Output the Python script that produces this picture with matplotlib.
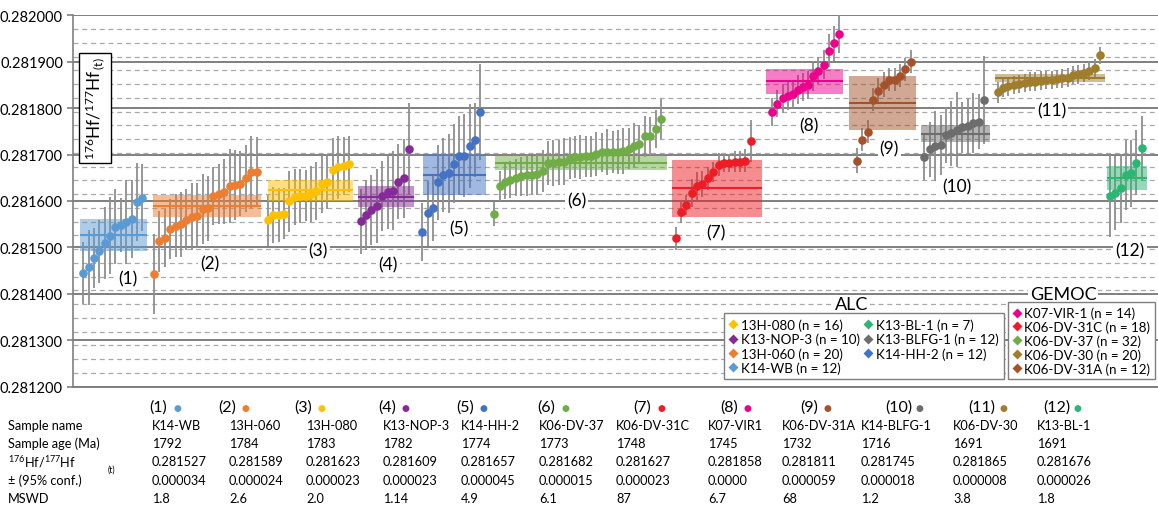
import matplotlib
matplotlib.use("Agg")
import matplotlib.pyplot as plt
import numpy as np
from matplotlib.lines import Line2D
from matplotlib.ticker import FixedLocator, FormatStrFormatter

plt.rcParams['font.family'] = ['Lato', 'DejaVu Sans']
plt.rcParams['mathtext.fontset'] = 'custom'
plt.rcParams['mathtext.rm'] = 'Lato'
plt.rcParams['mathtext.it'] = 'Lato:italic'

# ---------------- data ----------------
sample_names = ["K14-WB", "13H-060", "13H-080", "K13-NOP-3", "K14-HH-2", "K06-DV-37",
                "K06-DV-31C", "K07-VIR1", "K06-DV-31A", "K14-BLFG-1", "K06-DV-30", "K13-BL-1"]
sample_ages = ["1792", "1784", "1783", "1782", "1774", "1773", "1748", "1745", "1732", "1716", "1691", "1691"]
ratio_text = ["0.281527", "0.281589", "0.281623", "0.281609", "0.281657", "0.281682",
              "0.281627", "0.281858", "0.281811", "0.281745", "0.281865", "0.281676"]
conf_text = ["0.000034", "0.000024", "0.000023", "0.000023", "0.000045", "0.000015",
             "0.000023", "0.0000", "0.000059", "0.000018", "0.000008", "0.000026"]
mswd_text = ["1.8", "2.6", "2.0", "1.14", "4.9", "6.1", "87", "6.7", "68", "1.2", "3.8", "1.8"]

# weighted mean boxes as drawn (centre, half height)
box_mean = [0.281527, 0.281589, 0.281623, 0.281609, 0.281657, 0.281682,
            0.281627, 0.281858, 0.281811, 0.281745, 0.281865, 0.281650]
box_half = [0.000034, 0.000024, 0.000023, 0.000023, 0.000045, 0.000015,
            0.000062, 0.000027, 0.000059, 0.000018, 0.000008, 0.000026]

k14_wb = [0.281445, 0.281457, 0.281477, 0.281492, 0.281510, 0.281525, 0.281545, 0.281548,
          0.281555, 0.281561, 0.281597, 0.281607]
k14_wb_err = [67, 80, 65, 68, 77, 83, 80, 58, 90, 84, 84, 72]
h13_060 = [0.281442, 0.281513, 0.281520, 0.281540, 0.281547, 0.281550, 0.281560, 0.281566,
           0.281568, 0.281583, 0.281584, 0.281611, 0.281615, 0.281620, 0.281633, 0.281634,
           0.281637, 0.281649, 0.281662, 0.281662]
h13_060_err = [86, 65, 62, 65, 68, 70, 66, 72, 70, 75, 70, 62, 65, 70, 80, 75, 70, 72, 78, 75]
h13_080 = [0.281559, 0.281570, 0.281570, 0.281573, 0.281599, 0.281609, 0.281611, 0.281611,
           0.281615, 0.281622, 0.281637, 0.281642, 0.281667, 0.281673, 0.281676, 0.281680]
h13_080_err = [55, 60, 58, 55, 65, 60, 58, 55, 60, 62, 62, 60, 68, 68, 62, 60]
k13_nop3 = [0.281556, 0.281570, 0.281581, 0.281589, 0.281611, 0.281619, 0.281622, 0.281642,
            0.281649, 0.281712]
k13_nop3_err = [70, 75, 75, 80, 75, 80, 85, 80, 85, 100]
k14_hh2 = [0.281533, 0.281574, 0.281584, 0.281640, 0.281656, 0.281660, 0.281680, 0.281698,
           0.281698, 0.281719, 0.281732, 0.281792]
k14_hh2_err = [62, 70, 70, 80, 80, 85, 85, 85, 90, 90, 80, 103]
k06_dv37 = [0.281572, 0.281632, 0.281642, 0.281646, 0.281650, 0.281653, 0.281656, 0.281656,
            0.281658, 0.281664, 0.281682, 0.281682, 0.281683, 0.281685, 0.281692, 0.281694,
            0.281695, 0.281696, 0.281696, 0.281701, 0.281705, 0.281705, 0.281706, 0.281706,
            0.281708, 0.281713, 0.281719, 0.281723, 0.281739, 0.281739, 0.281755, 0.281777]
k06_dv37_err = [25, 32, 38, 40, 40, 42, 45, 40, 45, 45, 48, 50, 48, 50, 45, 45,
                48, 45, 45, 48, 42, 50, 45, 48, 50, 45, 48, 40, 45, 42, 40, 43]
k06_dv31c = [0.281520, 0.281577, 0.281592, 0.281617, 0.281633, 0.281637, 0.281649, 0.281662,
             0.281678, 0.281682, 0.281682, 0.281685, 0.281685, 0.281687, 0.281729]
k06_dv31c_err = [25, 25, 22, 30, 30, 28, 25, 22, 25, 20, 20, 22, 22, 25, 46]
k07_vir1 = [0.281791, 0.281810, 0.281821, 0.281826, 0.281830, 0.281840, 0.281846, 0.281850,
            0.281869, 0.281881, 0.281894, 0.281924, 0.281940, 0.281960]
k07_vir1_err = [30, 30, 32, 30, 30, 32, 30, 30, 32, 30, 32, 35, 38, 41]
k06_dv31a = [0.281687, 0.281732, 0.281749, 0.281818, 0.281838, 0.281850, 0.281861, 0.281861,
             0.281870, 0.281884, 0.281900]
k06_dv31a_err = [27, 25, 25, 25, 28, 27, 25, 25, 25, 25, 25]
k14_blfg1 = [0.281694, 0.281711, 0.281718, 0.281721, 0.281742, 0.281746, 0.281754, 0.281759,
             0.281761, 0.281768, 0.281771, 0.281818]
k14_blfg1_err = [48, 60, 75, 65, 60, 70, 80, 55, 60, 65, 60, 95]
k06_dv30 = [0.281834, 0.281843, 0.281847, 0.281850, 0.281852, 0.281854, 0.281857, 0.281857,
            0.281859, 0.281861, 0.281861, 0.281863, 0.281864, 0.281866, 0.281871, 0.281873,
            0.281876, 0.281881, 0.281886, 0.281914]
k06_dv30_err = [23, 20, 20, 20, 20, 20, 20, 20, 20, 20, 20, 20, 20, 20, 20, 20, 20, 20, 20, 18]
k13_bl1 = [0.281611, 0.281617, 0.281627, 0.281656, 0.281660, 0.281682, 0.281714]
k13_bl1_err = [88, 80, 75, 75, 72, 70, 70]

groups = [(k14_wb, k14_wb_err), (h13_060, h13_060_err), (h13_080, h13_080_err),
          (k13_nop3, k13_nop3_err), (k14_hh2, k14_hh2_err), (k06_dv37, k06_dv37_err),
          (k06_dv31c, k06_dv31c_err), (k07_vir1, k07_vir1_err), (k06_dv31a, k06_dv31a_err),
          (k14_blfg1, k14_blfg1_err), (k06_dv30, k06_dv30_err), (k13_bl1, k13_bl1_err)]

colors = ["#5b9bd5", "#ed7d31", "#ffc000", "#862a97", "#4472c4", "#70ad47",
          "#ee1c25", "#ec008c", "#a5522a", "#6d6d6d", "#a07d2c", "#2bb673"]

alc_labels = ["13H-080 (n = 16)", "K13-NOP-3 (n = 10)", "13H-060 (n = 20)", "K14-WB (n = 12)",
              "K13-BL-1 (n = 7)", "K13-BLFG-1 (n = 12)", "K14-HH-2 (n = 12)"]
alc_color_idx = [2, 3, 1, 0, 11, 9, 4]
gemoc_labels = ["K07-VIR-1 (n = 14)", "K06-DV-31C (n = 18)", "K06-DV-37 (n = 32)",
                "K06-DV-30 (n = 20)", "K06-DV-31A (n = 12)"]
gemoc_color_idx = [7, 6, 5, 10, 8]

# ---------------- layout ----------------
W, H = 1158, 510
pts_span = [(1.95, 12.83), (14.98, 33.91), (35.93, 50.92), (53.07, 61.97), (64.42, 75.06),
            (77.69, 108.41), (111.12, 124.94), (128.92, 141.21), (144.48, 154.43),
            (156.93, 167.93), (170.46, 189.31), (191.15, 196.99)]
box_span = [(1.35, 13.75), (14.85, 34.64), (36.04, 51.6), (52.63, 62.95), (64.5, 76.16),
            (77.82, 109.46), (110.5, 126.97), (127.76, 142.01), (143.11, 155.4),
            (156.32, 169.04), (169.96, 190.23), (190.54, 198.03)]
label_pos = [(10.25, 0.2814335), (25.3, 0.2814664), (45.26, 0.2814929), (58.16, 0.2814643),
             (71.24, 0.2815418), (92.88, 0.2816006), (118.55, 0.2815325), (135.74, 0.2817636),
             (150.48, 0.2817141), (162.9, 0.2816316), (180.41, 0.2817944), (194.84, 0.2814929)]

fig = plt.figure(figsize=(W / 100, H / 100), dpi=100)
ax = fig.add_axes([72.7 / W, 1 - 387.7 / H, 1 - 72.7 / W, (387.7 - 16.3) / H])
ax.set_xlim(0, 200)
ax.set_ylim(0.2812, 0.2820)

major = np.round(np.arange(0.2812, 0.282001, 0.0001), 6)
minor = [0.2812 + k * 0.0008 / 27 for k in range(1, 27)]
ax.yaxis.set_major_locator(FixedLocator(major))
ax.yaxis.set_minor_locator(FixedLocator(minor))
ax.yaxis.set_major_formatter(FormatStrFormatter('%.6f'))
ax.grid(which='minor', axis='y', color='#a9a9a9', lw=0.9, ls=(0, (4, 3)))
ax.grid(which='major', axis='y', color='#7f7f7f', lw=1.4, ls='-')
ax.set_axisbelow(True)
ax.set_xticks([])
ax.tick_params(axis='y', which='major', length=4, color='#7f7f7f', width=1.2,
               labelsize=10.5, pad=3)
ax.tick_params(axis='y', which='minor', length=0)
for s in ['top', 'right']:
    ax.spines[s].set_visible(False)
ax.spines['left'].set_color('#7f7f7f')
ax.spines['left'].set_linewidth(1.2)
ax.spines['bottom'].set_color('#7f7f7f')
ax.spines['bottom'].set_linewidth(1.4)

for i, (vals, errs) in enumerate(groups):
    n = len(vals)
    x = np.linspace(pts_span[i][0], pts_span[i][1], n)
    y = np.array(vals)
    e = np.array(errs) * 1e-6
    ax.vlines(x, y - e, y + e, color='#8f8f8f', lw=1.3, zorder=3)
    bx0, bx1 = box_span[i]
    ax.fill_between([bx0, bx1], box_mean[i] - box_half[i], box_mean[i] + box_half[i],
                    color=colors[i], alpha=0.5, lw=0, zorder=3.5)
    ax.hlines(box_mean[i], bx0, bx1, color=colors[i], lw=1.5, zorder=3.6)
    ax.plot(x, y, 'o', color=colors[i], ms=6.2, mec='none', zorder=4)
    lx, ly = label_pos[i]
    ax.text(lx, ly, f"({i + 1})", ha='center', va='center', fontsize=12.5,
            bbox=dict(fc='white', ec='none', pad=1.5), zorder=5)

# y label box
fig.text(95 / W, 1 - 109 / H, r'$^{176}$Hf/$^{177}$Hf$_{\,(\mathrm{t})}$', rotation=90,
         ha='center', va='center', fontsize=12.3,
         bbox=dict(fc='white', ec='black', lw=1.0, pad=3))

# legends
def mk(c):
    return Line2D([], [], marker='D', ls='none', color=c, ms=5, mec='none')

lfs = 9.6
alc = fig.legend([mk(colors[j]) for j in alc_color_idx], alc_labels, ncol=2,
                 loc='upper left', bbox_to_anchor=(724 / W, 1 - 314 / H),
                 frameon=True, fancybox=False, edgecolor='#7f7f7f', fontsize=lfs,
                 handlelength=0.6, handletextpad=0.25, columnspacing=0.35,
                 borderpad=0.4, labelspacing=0.14, borderaxespad=0, framealpha=1)
alc.get_frame().set_linewidth(1.0)
gem = fig.legend([mk(colors[j]) for j in gemoc_color_idx], gemoc_labels, ncol=1,
                 loc='upper left', bbox_to_anchor=(1008 / W, 1 - 303 / H),
                 frameon=True, fancybox=False, edgecolor='#7f7f7f', fontsize=lfs,
                 handlelength=0.6, handletextpad=0.25,
                 borderpad=0.35, labelspacing=0.1, borderaxespad=0, framealpha=1)
gem.get_frame().set_linewidth(1.0)
fig.text(852 / W, 1 - 305 / H, "ALC", ha='center', va='center', fontsize=13,
         bbox=dict(fc='white', ec='none', pad=1))
fig.text(1063 / W, 1 - 295 / H, "GEMOC", ha='center', va='center', fontsize=13,
         bbox=dict(fc='white', ec='none', pad=1))

# table below
col_x = [152, 229, 306, 383, 461, 539, 616, 708, 782, 861, 953, 1037]
head_x = [149, 218, 294, 378, 456, 537, 633, 720, 800, 885, 968, 1043]
row_y = [408, 426, 444, 462, 481, 499]
row_labels = ["Sample name", "Sample age (Ma)", r'$^{176}$Hf/$^{177}$Hf', "± (95% conf.)", "MSWD"]
fs = 9.2
for r, lab in enumerate(row_labels):
    fig.text(8 / W, 1 - row_y[r + 1] / H, lab, ha='left', va='center', fontsize=fs)
fig.text(108 / W, 1 - 470 / H, "(t)", ha='left', va='center', fontsize=6.2)
for c in range(12):
    fig.text(head_x[c] / W, 1 - row_y[0] / H, f"({c + 1})", ha='left', va='center',
             fontsize=11.5)
    fig.text((head_x[c] + (24 if c < 9 else 31)) / W, 1 - (row_y[0] + 1) / H, "●",
             color=colors[c], ha='left', va='center', fontsize=6.5,
             family=['DejaVu Sans'])
    for r, vals in enumerate([sample_names, sample_ages, ratio_text, conf_text, mswd_text]):
        fig.text(col_x[c] / W, 1 - row_y[r + 1] / H, vals[c], ha='left', va='center',
                 fontsize=fs)

fig.savefig("out.png", dpi=100)
